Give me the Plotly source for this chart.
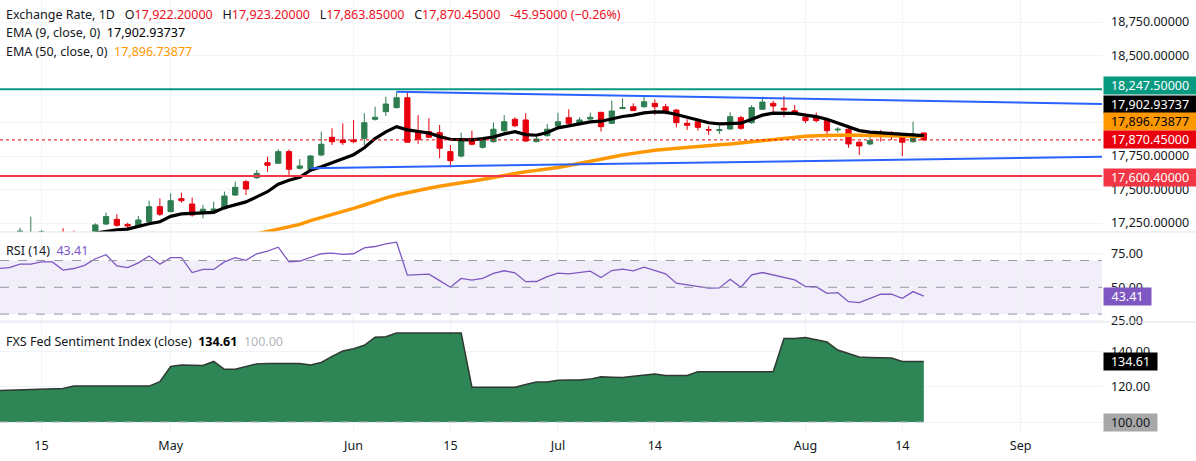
import plotly.graph_objects as go

# ---------------- data (bar index 0..86) ----------------
opens = [17120, 17140, 17150, 17150, 17170, 17175, 17180, 17175, 17150, 17170,
         17243, 17278, 17240, 17223, 17260, 17372, 17335, 17432, 17392, 17335,
         17340, 17357, 17459, 17559, 17588, 17700, 17696, 17783, 17659, 17651,
         17758, 17890, 17870, 17870, 17882, 18024, 18081, 18111, 18185, 17932,
         17932, 17924, 17783, 17750, 17882, 17815, 17857, 17939, 18024, 18019,
         17857, 17902, 17974, 18036, 17989, 18026, 18076, 17994, 18104, 18118,
         18118, 18143, 18118, 18093, 17994, 18006, 17947, 17940, 17952, 18036,
         17999, 18099, 18143, 18106, 18088, 18039, 18044, 18019, 17945, 17950,
         17853, 17840, 17910, 17910, 17899, 17857, 17922.2]
highs = [17160, 17170, 17215, 17298, 17198, 17180, 17211, 17193, 17178, 17248,
         17328, 17316, 17252, 17303, 17417, 17435, 17472, 17477, 17440, 17385,
         17410, 17485, 17559, 17571, 17646, 17745, 17800, 17800, 17728, 17758,
         17932, 17957, 17994, 18019, 18069, 18118, 18193, 18230, 18230, 18056,
         18032, 17982, 17832, 17924, 17939, 17880, 17999, 18056, 18040, 18069,
         17895, 17989, 18073, 18099, 18040, 18073, 18080, 18163, 18181, 18143,
         18198, 18173, 18140, 18100, 18024, 18030, 17974, 17975, 18076, 18050,
         18131, 18193, 18163, 18198, 18131, 18070, 18075, 18030, 17965, 17982,
         17860, 17932, 17944, 17935, 17915, 18006, 17923.2]
lows = [17090, 17110, 17120, 17130, 17150, 17130, 17140, 17150, 17130, 17160,
        17235, 17223, 17211, 17215, 17253, 17303, 17330, 17402, 17298, 17286,
        17330, 17350, 17452, 17459, 17580, 17633, 17690, 17596, 17650, 17645,
        17750, 17832, 17832, 17845, 17832, 18015, 18049, 18105, 17850, 17840,
        17885, 17733, 17666, 17740, 17830, 17805, 17850, 17930, 17965, 17855,
        17855, 17895, 17965, 17985, 17980, 18020, 17932, 17990, 18100, 18085,
        18110, 18056, 18060, 17964, 17944, 17940, 17907, 17915, 17945, 17945,
        17990, 18095, 18056, 18039, 18055, 17995, 18000, 17890, 17925, 17812,
        17758, 17830, 17857, 17870, 17750, 17850, 17863.85]
closes = [17140, 17150, 17190, 17180, 17185, 17150, 17160, 17165, 17170, 17236,
          17298, 17233, 17228, 17273, 17372, 17316, 17417, 17417, 17310, 17353,
          17355, 17452, 17517, 17504, 17621, 17681, 17783, 17651, 17676, 17750,
          17838, 17857, 17850, 17857, 17999, 18039, 18138, 18185, 17853, 17875,
          17890, 17808, 17715, 17875, 17838, 17870, 17950, 18006, 17976, 17862,
          17877, 17950, 18006, 17994, 18019, 18039, 17969, 18086, 18111, 18089,
          18155, 18118, 18086, 17999, 17979, 17964, 17944, 17946, 18044, 17957,
          18111, 18153, 18123, 18094, 18073, 18014, 18014, 17939, 17950, 17840,
          17825, 17865, 17905, 17905, 17853, 17914, 17870.45]

ema9_start = 9
ema9 = [17175, 17190, 17200, 17205, 17228, 17245, 17260, 17300, 17318, 17322,
        17326, 17330, 17365, 17385, 17408, 17445, 17484, 17540, 17570, 17591,
        17645, 17670, 17698, 17730, 17760, 17812, 17880, 17930, 17969, 17945,
        17935, 17922, 17895, 17875, 17872, 17870, 17880, 17892, 17915, 17932,
        17910, 17905, 17925, 17960, 17975, 17990, 18005, 18010, 18030, 18045,
        18055, 18072, 18080, 18078, 18060, 18040, 18020, 17998, 17990, 17995,
        17995, 18025, 18055, 18070, 18072, 18068, 18055, 18044, 18025, 17998,
        17965, 17940, 17928, 17924, 17920, 17912, 17910, 17902.93737]

ema50_start = 24
ema50 = [17170, 17190, 17205, 17222, 17240, 17268, 17290, 17310, 17335, 17360,
         17385, 17412, 17438, 17459, 17478, 17495, 17510, 17525, 17540, 17550,
         17562, 17573, 17590, 17605, 17620, 17632, 17643, 17651, 17665, 17680,
         17696, 17712, 17728, 17745, 17758, 17770, 17783, 17793, 17800, 17808,
         17815, 17822, 17828, 17834, 17840, 17848, 17856, 17868, 17878, 17886,
         17893, 17897, 17902, 17905, 17907, 17907, 17906, 17906, 17904, 17902,
         17900, 17898, 17896.73877]

rsi = [64.0, 64.7, 67.2, 67.2, 68.9, 68.9, 62.8, 64.0, 66.4, 71.3,
       74.3, 66.0, 64.7, 68.2, 73.3, 67.2, 72.1, 72.1, 61.0, 63.3,
       63.3, 68.9, 72.1, 70.1, 75.0, 77.0, 79.9, 68.9, 69.6, 72.1,
       75.0, 75.5, 74.5, 75.0, 79.4, 80.4, 82.4, 83.6, 59.1, 59.5,
       59.8, 55.0, 50.0, 56.6, 55.4, 56.6, 60.3, 62.3, 60.8, 54.2,
       54.3, 58.0, 60.5, 60.0, 61.0, 62.0, 57.3, 62.5, 63.5, 62.3,
       65.0, 62.3, 60.0, 53.0, 51.8, 51.0, 49.3, 49.5, 56.0, 50.0,
       59.3, 61.0, 59.3, 57.3, 55.5, 50.5, 50.5, 45.5, 46.0, 39.3,
       38.5, 41.8, 44.8, 44.8, 41.8, 46.8, 43.41]

fed = [118.0, 118.2, 118.4, 118.5, 118.8, 119.0, 119.2, 120.5, 120.5, 120.5,
       120.5, 120.5, 120.5, 120.5, 120.5, 123.0, 131.7, 132.6, 132.5, 132.3,
       134.6, 130.1, 130.1, 131.8, 133.2, 133.4, 133.4, 133.4, 133.4, 132.5,
       134.0, 137.5, 140.5, 141.8, 143.8, 148.4, 148.7, 150.8, 150.8, 150.8,
       150.8, 150.8, 150.8, 150.8, 119.9, 119.9, 119.9, 119.9, 119.9, 121.4,
       122.9, 122.9, 123.9, 124.0, 124.0, 124.5, 125.8, 125.6, 125.4, 126.2,
       126.6, 127.4, 126.6, 126.6, 126.6, 128.7, 128.7, 128.7, 128.7, 128.7,
       128.7, 128.7, 128.7, 147.7, 147.7, 148.3, 146.9, 145.7, 141.1, 139.0,
       137.1, 136.9, 136.8, 136.6, 134.6, 134.6, 134.61]
fed_base = 100.0

tick_pos = [4, 16, 33, 42, 52, 61, 75, 84, 95]
tick_text = ["15", "May", "Jun", "15", "Jul", "14", "Aug", "14", "Sep"]

resistance = 18247.5
support = 17600.4
trend_upper_x = [37, 102.6]
trend_upper_y = [18230, 18138]
trend_lower_x = [29, 102.6]
trend_lower_y = [17659, 17745]

price_ticks = [17250, 17500, 17750, 18000, 18250, 18500, 18750]
price_labels = ["17,250.00000", "17,500.00000", "17,750.00000", "", "", "18,500.00000", "18,750.00000"]
rsi_ticks = [25, 50, 75]
fed_ticks = [100, 120, 140]

# ---------------- style ----------------
FONT = "Noto Sans"
TXT = "#131722"
GREEN = "#2e7d50"
RED = "#e8000f"
GRID = "#f0f3fa"
FS = 12.5

N = len(closes)
idx = list(range(N))

fig = go.Figure()

fig.add_trace(go.Candlestick(
    x=idx, open=opens, high=highs, low=lows, close=closes,
    increasing=dict(line=dict(color=GREEN, width=1), fillcolor=GREEN),
    decreasing=dict(line=dict(color=RED, width=1), fillcolor=RED),
    whiskerwidth=0, xaxis="x", yaxis="y", hoverinfo="skip", showlegend=False))

fig.add_trace(go.Scatter(x=list(range(ema50_start, ema50_start + len(ema50))), y=ema50,
                         mode="lines", line=dict(color="#ff9800", width=3.5),
                         xaxis="x", yaxis="y", showlegend=False, hoverinfo="skip"))
fig.add_trace(go.Scatter(x=list(range(ema9_start, ema9_start + len(ema9))), y=ema9,
                         mode="lines", line=dict(color="#000000", width=3.2),
                         xaxis="x", yaxis="y", showlegend=False, hoverinfo="skip"))
fig.add_trace(go.Scatter(x=trend_upper_x, y=trend_upper_y, mode="lines",
                         line=dict(color="#2962ff", width=2), xaxis="x", yaxis="y",
                         showlegend=False, hoverinfo="skip"))
fig.add_trace(go.Scatter(x=trend_lower_x, y=trend_lower_y, mode="lines",
                         line=dict(color="#2962ff", width=2), xaxis="x", yaxis="y",
                         showlegend=False, hoverinfo="skip"))

# RSI
fig.add_trace(go.Scatter(x=idx, y=rsi, mode="lines", line=dict(color="#7e57c2", width=1.3),
                         xaxis="x", yaxis="y2", showlegend=False, hoverinfo="skip"))

# Fed sentiment area (filled down to the 100 baseline)
fig.add_trace(go.Scatter(x=idx, y=[fed_base] * N, mode="lines", line=dict(width=0, color="rgba(0,0,0,0)"),
                         xaxis="x", yaxis="y3", showlegend=False, hoverinfo="skip"))
fig.add_trace(go.Scatter(x=idx, y=fed, mode="lines", fill="tonexty", fillcolor="#2e8555",
                         line=dict(color="#2f3a33", width=1.5),
                         xaxis="x", yaxis="y3", showlegend=False, hoverinfo="skip"))

MAIN_DOM = [0.463, 1.0]
RSI_DOM = [0.2546, 0.4607]
FED_DOM = [0.0, 0.2546]

shapes = [
    dict(type="rect", xref="paper", x0=0, x1=1, yref="y2", y0=30, y1=70,
         fillcolor="rgba(126,87,194,0.1)", line=dict(width=0), layer="below"),
    dict(type="line", xref="paper", x0=0, x1=1, yref="y2", y0=70, y1=70,
         line=dict(color="#9598a1", width=1, dash="dash")),
    dict(type="line", xref="paper", x0=0, x1=1, yref="y2", y0=50, y1=50,
         line=dict(color="#9598a1", width=1, dash="dash")),
    dict(type="line", xref="paper", x0=0, x1=1, yref="y2", y0=30, y1=30,
         line=dict(color="#9598a1", width=1, dash="dash")),
    dict(type="line", xref="paper", x0=0, x1=1, yref="y", y0=resistance, y1=resistance,
         line=dict(color="#089981", width=2)),
    dict(type="line", xref="paper", x0=0, x1=1, yref="y", y0=support, y1=support,
         line=dict(color="#f23645", width=2)),
    dict(type="line", xref="paper", x0=0, x1=1, yref="y", y0=closes[-1], y1=closes[-1],
         line=dict(color=RED, width=1, dash="dot")),
    dict(type="line", xref="x", x0=0, x1=N - 1, yref="y3", y0=fed_base, y1=fed_base,
         line=dict(color="#b2b5be", width=1, dash="dash")),
    dict(type="line", xref="paper", x0=0, x1=1.09, yref="paper", y0=MAIN_DOM[0], y1=MAIN_DOM[0],
         line=dict(color="#e0e3eb", width=1)),
    dict(type="line", xref="paper", x0=0, x1=1.09, yref="paper", y0=FED_DOM[1], y1=FED_DOM[1],
         line=dict(color="#e0e3eb", width=1)),
]

def fmt(v, d=5):
    return f"{v:,.{d}f}"

VAL = "#eb0f1e"
SP = "&nbsp;&nbsp;&nbsp;"
head = (f"Exchange Rate, 1D{SP}O<span style='color:{VAL}'>{fmt(opens[-1])}</span>{SP}"
        f"H<span style='color:{VAL}'>{fmt(highs[-1])}</span>{SP}"
        f"L<span style='color:{VAL}'>{fmt(lows[-1])}</span>{SP}"
        f"C<span style='color:{VAL}'>{fmt(closes[-1])}</span>{SP}"
        f"<span style='color:{VAL}'>-45.95000 (−0.26%)</span>")

H = 432.0
def py(pix):
    return 1 - pix / H

annotations = [
    dict(text=head, xref="paper", yref="paper", x=0, y=py(15), xanchor="left", yanchor="middle",
         xshift=4, showarrow=False, font=dict(size=FS, color=TXT)),
    dict(text=f"EMA (9, close, 0)&nbsp;&nbsp;<span style='color:#000'>{fmt(ema9[-1])}</span>",
         xref="paper", yref="paper", x=0, y=py(33), xanchor="left", yanchor="middle",
         xshift=4, showarrow=False, font=dict(size=FS, color=TXT)),
    dict(text=f"EMA (50, close, 0)&nbsp;&nbsp;<span style='color:#ff9800'>{fmt(ema50[-1])}</span>",
         xref="paper", yref="paper", x=0, y=py(52), xanchor="left", yanchor="middle",
         xshift=4, showarrow=False, font=dict(size=FS, color=TXT)),
    dict(text=f"RSI (14)&nbsp;&nbsp;<span style='color:#7e57c2'>{rsi[-1]:.2f}</span>",
         xref="paper", yref="paper", x=0, y=py(250), xanchor="left", yanchor="middle",
         xshift=4, showarrow=False, font=dict(size=FS, color=TXT)),
    dict(text=f"FXS Fed Sentiment Index (close)&nbsp;&nbsp;<span style='color:#000'><b>{fed[-1]:.2f}</b></span>"
              f"&nbsp;&nbsp;<span style='color:#b2b5be'>{fed_base:.2f}</span>",
         xref="paper", yref="paper", x=0, y=py(341), xanchor="left", yanchor="middle",
         xshift=4, showarrow=False, font=dict(size=FS, color=TXT)),
]

def tag(val, text, yref, bg, fg, yshift=0, w=90):
    return dict(text=text, xref="paper", x=1, xanchor="left", xshift=1, yref=yref, y=val,
                yanchor="middle", yshift=yshift, showarrow=False, bgcolor=bg,
                font=dict(size=FS, color=fg), width=w, height=15, borderpad=1, align="center")

annotations += [
    tag(resistance, fmt(resistance), "y", "#089981", "#ffffff", 4),
    tag(ema9[-1], fmt(ema9[-1]), "y", "#000000", "#ffffff", 31.5),
    tag(ema50[-1], fmt(ema50[-1]), "y", "#ff9800", "#000000", 14.7),
    tag(closes[-1], fmt(closes[-1]), "y", RED, "#ffffff", 0),
    tag(support, fmt(support), "y", "#f23645", "#ffffff", -1),
    tag(rsi[-1], f"{rsi[-1]:.2f}", "y2", "#7e57c2", "#ffffff", 0, 45),
    tag(fed[-1], f"{fed[-1]:.2f}", "y3", "#000000", "#ffffff", 0, 51),
    tag(fed_base, f"{fed_base:.2f}", "y3", "#a8a8a8", TXT, 0, 51),
]

common_y = dict(side="right", showgrid=True, gridcolor=GRID, zeroline=False, showline=False,
                ticks="", tickfont=dict(size=FS, color=TXT), ticklabelstandoff=8, anchor="x",
                fixedrange=True, automargin=False)

fig.update_layout(
    width=1196, height=461,
    margin=dict(l=0, r=94, t=0, b=29, autoexpand=False),
    paper_bgcolor="#ffffff", plot_bgcolor="#ffffff",
    font=dict(family=FONT, color=TXT, size=FS),
    hovermode=False, showlegend=False,
    xaxis=dict(domain=[0, 1], range=[0.14, 102.56], anchor="y3", tickvals=tick_pos,
               ticktext=tick_text, showgrid=True, gridcolor=GRID, zeroline=False,
               showline=False, ticks="", tickfont=dict(size=FS, color=TXT),
               rangeslider=dict(visible=False), ticklabelstandoff=4, automargin=False),
    yaxis=dict(domain=MAIN_DOM, range=[17183.4, 18914.1], tickvals=price_ticks,
               ticktext=price_labels, **common_y),
    yaxis2=dict(domain=RSI_DOM, range=[24.1, 90.5], tickvals=rsi_ticks,
                tickformat=".2f", **common_y),
    yaxis3=dict(domain=FED_DOM, range=[94.3, 157.1], tickvals=fed_ticks,
                tickformat=".2f", **common_y),
    shapes=shapes, annotations=annotations,
)

fig.write_html("out.html", config={"displayModeBar": False},
               post_script="document.body.style.margin='0';document.body.style.overflow='hidden';")
